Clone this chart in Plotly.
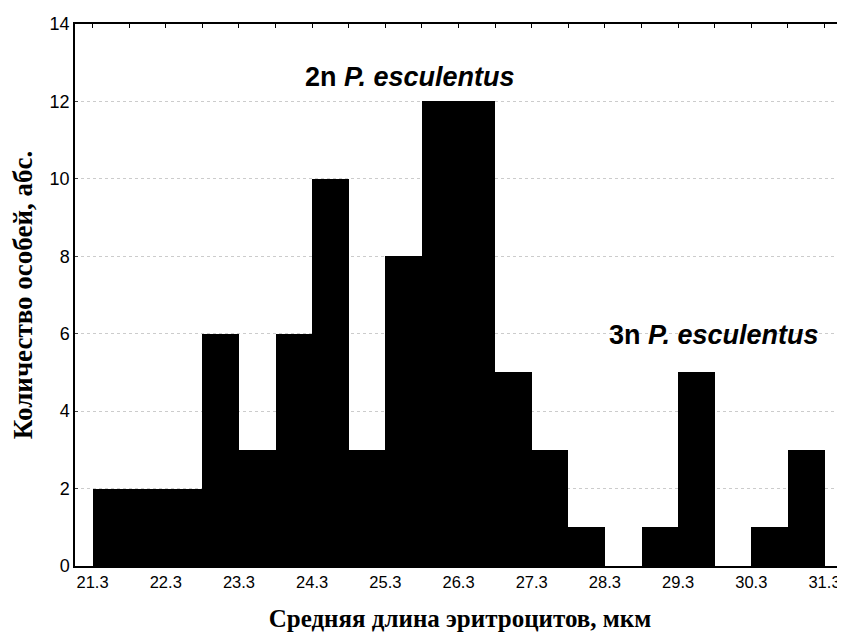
import plotly.graph_objects as go

bin_left = [21.3, 21.8, 22.3, 22.8, 23.3, 23.8, 24.3, 24.8, 25.3, 25.8,
            26.3, 26.8, 27.3, 27.8, 28.3, 28.8, 29.3, 29.8, 30.3, 30.8]
counts = [2, 2, 2, 6, 3, 6, 10, 3, 8, 12, 12, 5, 3, 1, 0, 1, 5, 0, 1, 3]
bin_width = 0.5
x_ticks = [21.3, 22.3, 23.3, 24.3, 25.3, 26.3, 27.3, 28.3, 29.3, 30.3, 31.3]
x_ticklabels = ["21.3", "22.3", "23.3", "24.3", "25.3", "26.3", "27.3", "28.3", "29.3", "30.3", "31.3"]
top_ticks = bin_left + [31.3]
y_ticks = [0, 2, 4, 6, 8, 10, 12, 14]

centers = [b + bin_width / 2 for b in bin_left]
xr = [21.06, 31.58]

fig = go.Figure()
fig.add_trace(go.Bar(x=centers, y=counts, width=[bin_width] * len(counts),
                     marker=dict(color="black", line=dict(width=0)), showlegend=False))
fig.add_trace(go.Scatter(x=[xr[0]], y=[0], xaxis="x2", mode="markers",
                         marker=dict(opacity=0), showlegend=False, hoverinfo="skip"))

fig.update_layout(
    width=837, height=627,
    margin=dict(l=67, r=0, t=16, b=69),
    paper_bgcolor="white", plot_bgcolor="white",
    bargap=0,
    font=dict(family="Liberation Sans, Arial", color="black", size=16.5),
    xaxis=dict(range=xr, tickvals=x_ticks, ticktext=x_ticklabels, showgrid=False,
               showline=True, linecolor="black", linewidth=1.5, ticks="",
               zeroline=False, tickfont=dict(size=16.5), automargin=False,
               ticklabeloverflow="allow",
               title=dict(text="<b>Средняя длина эритроцитов, мкм</b>",
                          font=dict(family="Liberation Serif, Times New Roman", size=25),
                          standoff=20)),
    xaxis2=dict(range=xr, overlaying="x", side="top", tickvals=top_ticks,
                showticklabels=False, ticks="inside", ticklen=4, tickcolor="black",
                showline=True, linecolor="black", linewidth=1.5, showgrid=False,
                zeroline=False, automargin=False),
    yaxis=dict(range=[0, 14], tickvals=y_ticks, showgrid=True, gridcolor="#cccccc",
               griddash="dot", gridwidth=1, showline=True, linecolor="black",
               linewidth=1.5, ticks="inside", ticklen=3, zeroline=False,
               tickfont=dict(size=18), automargin=False,
               title=dict(text="<b>Количество особей, абс.</b>",
                          font=dict(family="Liberation Serif, Times New Roman", size=27),
                          standoff=17)),
    annotations=[
        dict(x=25.64, y=12.63, xref="x", yref="y", showarrow=False,
             text="<b>2n <i>P. esculentus</i></b>",
             font=dict(family="Liberation Sans, Arial", size=27, color="black")),
        dict(x=29.79, y=5.97, xref="x", yref="y", showarrow=False,
             text="<b>3n <i>P. esculentus</i></b>",
             font=dict(family="Liberation Sans, Arial", size=27, color="black")),
    ],
)

fig.write_html("out.html")
